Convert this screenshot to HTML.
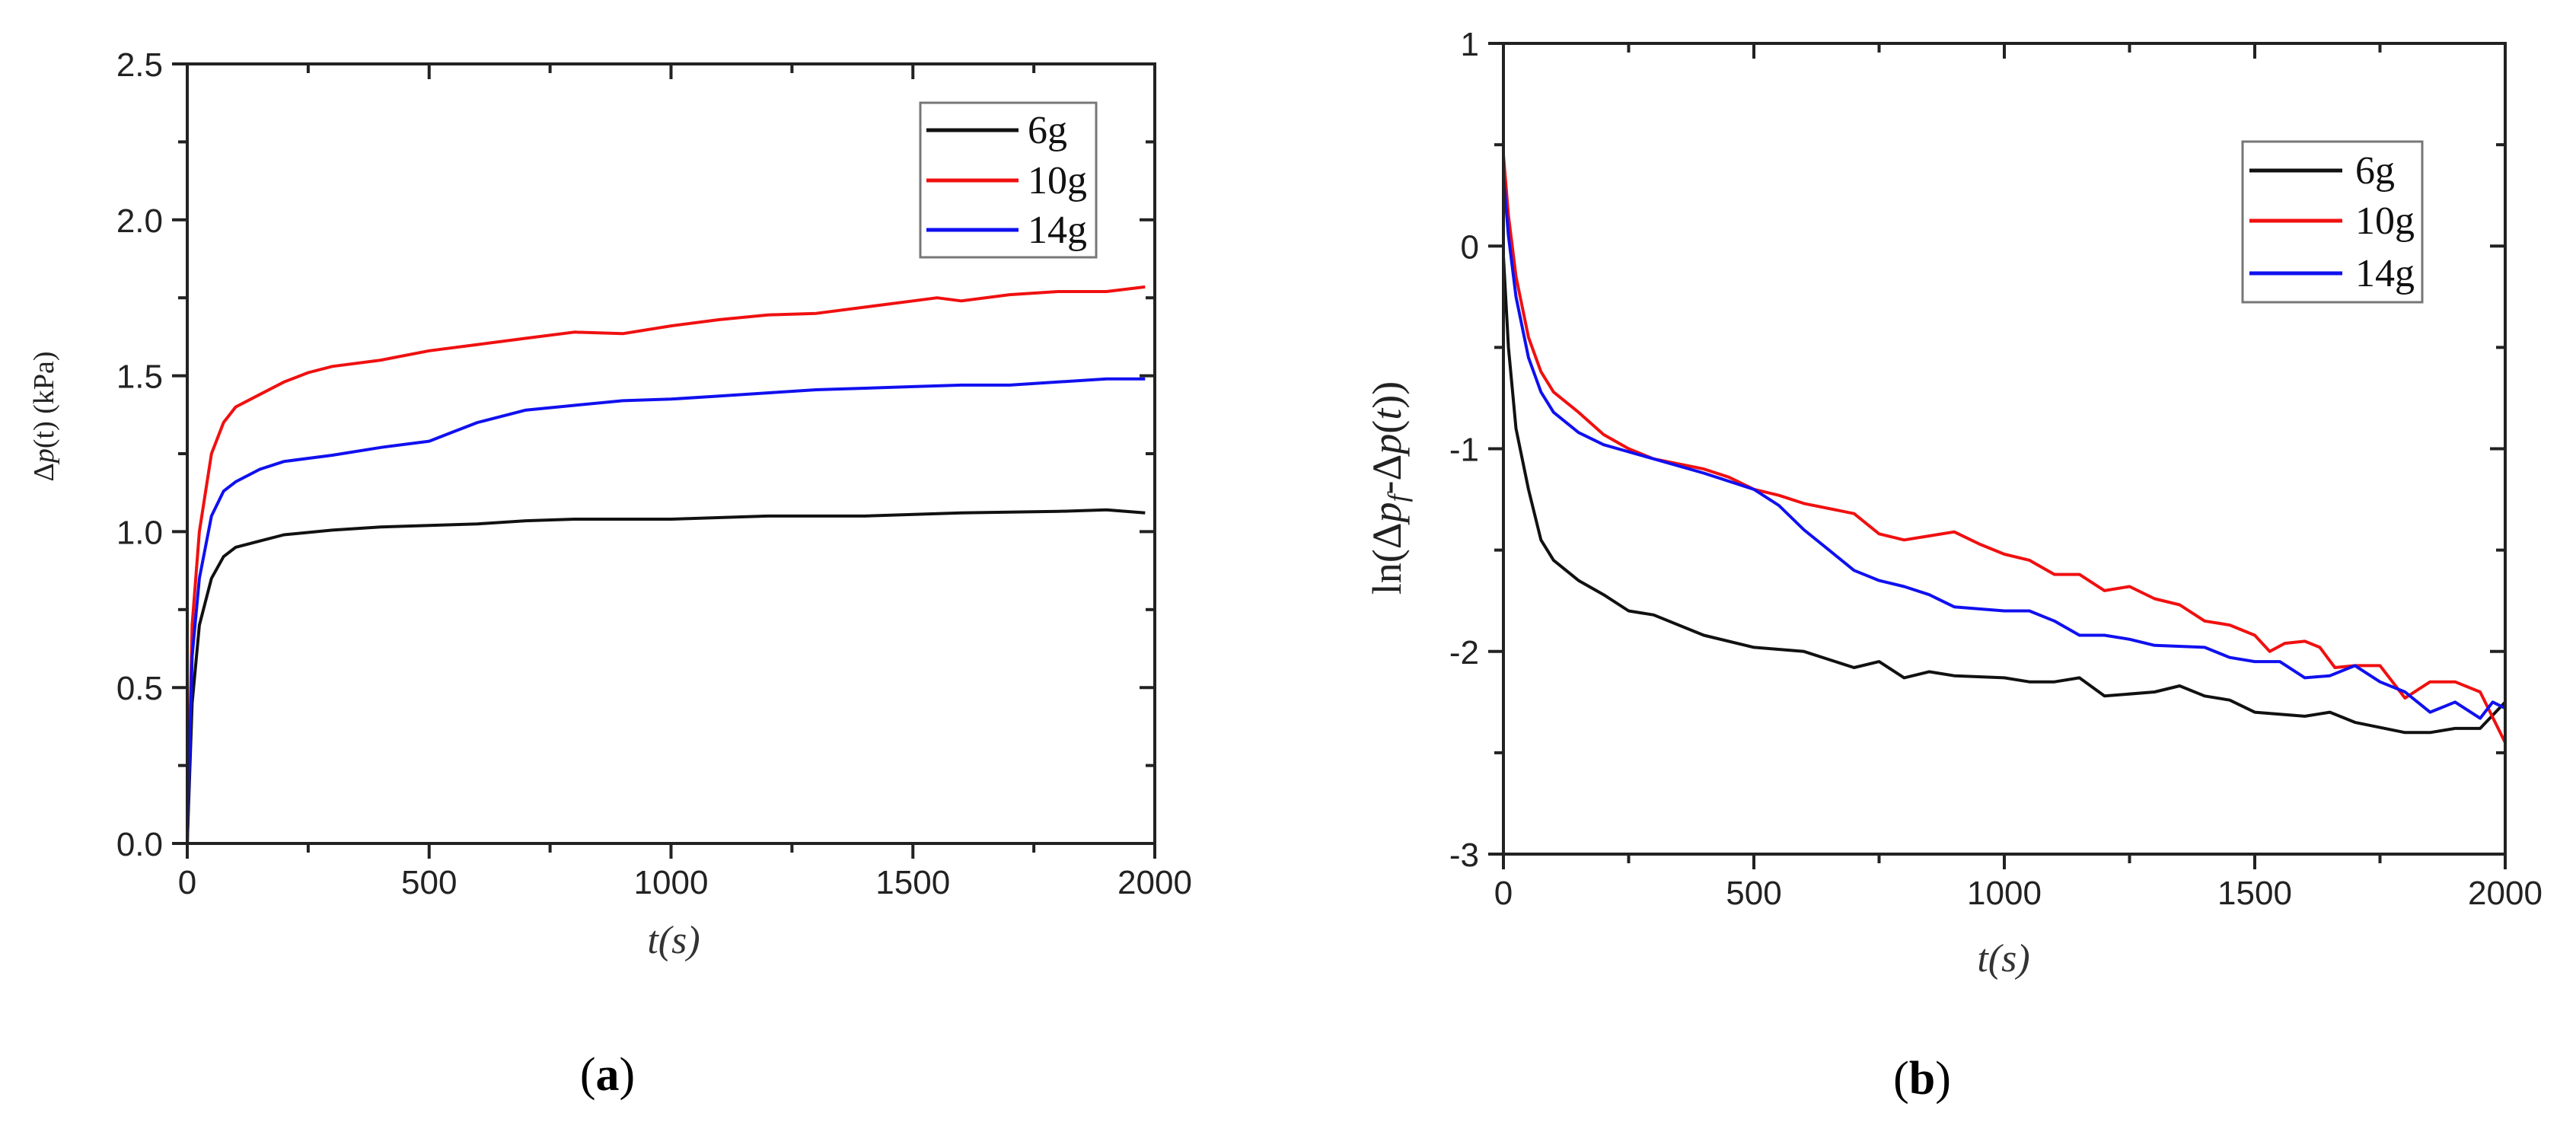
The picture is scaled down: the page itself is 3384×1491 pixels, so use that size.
<!DOCTYPE html>
<html><head><meta charset="utf-8"><style>
html,body{margin:0;padding:0;background:#fff;}
svg{display:block;}
.tick{font-family:"Liberation Sans",sans-serif;font-size:44px;fill:#222;}
.serif{font-family:"Liberation Serif",serif;}
</style></head><body>
<svg id="fig" width="3384" height="1491" viewBox="0 0 3384 1491" xmlns="http://www.w3.org/2000/svg">
<rect width="3384" height="1491" fill="#fff"/>
<g id="chartA"></g>
<g id="chartB"></g>
<text x="798" y="1432" text-anchor="middle" class="serif" font-size="62">(<tspan font-weight="bold">a</tspan>)</text>
<text x="2525" y="1437" text-anchor="middle" class="serif" font-size="62">(<tspan font-weight="bold">b</tspan>)</text>
<text x="885" y="1252" text-anchor="middle" font-family="Liberation Serif, serif" font-size="52" font-style="italic" fill="#333">t(s)</text>
<text x="2632" y="1276" text-anchor="middle" font-family="Liberation Serif, serif" font-size="52" font-style="italic" fill="#333">t(s)</text>
<text transform="translate(70,547) rotate(-90)" text-anchor="middle" font-family="Liberation Serif, serif" font-size="38" fill="#222">Δ<tspan font-style="italic">p</tspan>(t) (kPa)</text>
<text transform="translate(1840,641) rotate(-90)" text-anchor="middle" font-family="Liberation Serif, serif" font-size="54" fill="#222">ln(Δ<tspan font-style="italic">p</tspan><tspan font-style="italic" font-size="36" dy="8">f</tspan><tspan dy="-8">-Δ</tspan><tspan font-style="italic">p</tspan>(<tspan font-style="italic">t</tspan>))</text>
</svg>
<script>
// ---- Chart (a) data ----
const aT6 = [0,10,25,50,75,100,150,200,300,400,500,600,700,800,900,1000,1200,1400,1600,1800,1900,1980];
const aV6 = [0,0.45,0.7,0.85,0.92,0.95,0.97,0.99,1.005,1.015,1.02,1.025,1.035,1.04,1.04,1.04,1.05,1.05,1.06,1.065,1.07,1.06];
const aT10 = [0,10,25,50,75,100,150,200,250,300,400,500,600,700,800,900,1000,1100,1200,1300,1400,1500,1550,1600,1700,1800,1900,1980];
const aV10 = [0,0.7,1.0,1.25,1.35,1.40,1.44,1.48,1.51,1.53,1.55,1.58,1.60,1.62,1.64,1.635,1.66,1.68,1.695,1.70,1.72,1.74,1.75,1.74,1.76,1.77,1.77,1.785];
const aT14 = [0,10,25,50,75,100,150,200,300,400,500,550,600,700,800,900,1000,1100,1200,1300,1400,1500,1600,1700,1800,1900,1980];
const aV14 = [0,0.6,0.85,1.05,1.13,1.16,1.20,1.225,1.245,1.27,1.29,1.32,1.35,1.39,1.405,1.42,1.425,1.435,1.445,1.455,1.46,1.465,1.47,1.47,1.48,1.49,1.49];
const aXTicks = [0,500,1000,1500,2000];
const aYTicks = [0,0.5,1,1.5,2,2.5];
const aYLabels = ["0.0","0.5","1.0","1.5","2.0","2.5"];
// ---- Chart (b) data ----
const bT6 = [0,10,25,50,75,100,150,200,250,300,400,500,600,700,750,800,850,900,1000,1050,1100,1150,1200,1300,1350,1400,1450,1500,1600,1650,1700,1800,1850,1900,1950,2000];
const bV6 = [-0.05,-0.5,-0.9,-1.2,-1.45,-1.55,-1.65,-1.72,-1.8,-1.82,-1.92,-1.98,-2.0,-2.08,-2.05,-2.13,-2.1,-2.12,-2.13,-2.15,-2.15,-2.13,-2.22,-2.2,-2.17,-2.22,-2.24,-2.3,-2.32,-2.3,-2.35,-2.4,-2.4,-2.38,-2.38,-2.25];
const bT10 = [0,10,25,50,75,100,150,200,250,300,400,450,500,550,600,700,750,800,850,900,950,1000,1050,1100,1150,1200,1250,1300,1350,1400,1450,1500,1530,1560,1600,1630,1660,1700,1750,1800,1850,1900,1950,2000];
const bV10 = [0.45,0.15,-0.15,-0.45,-0.62,-0.72,-0.82,-0.93,-1.0,-1.05,-1.1,-1.14,-1.2,-1.23,-1.27,-1.32,-1.42,-1.45,-1.43,-1.41,-1.47,-1.52,-1.55,-1.62,-1.62,-1.7,-1.68,-1.74,-1.77,-1.85,-1.87,-1.92,-2.0,-1.96,-1.95,-1.98,-2.08,-2.07,-2.07,-2.23,-2.15,-2.15,-2.2,-2.45];
const bT14 = [0,10,25,50,75,100,150,200,300,400,500,550,600,650,700,750,800,850,900,1000,1050,1100,1150,1200,1250,1300,1400,1450,1500,1550,1600,1650,1700,1750,1800,1850,1900,1950,1975,2000];
const bV14 = [0.35,0.05,-0.25,-0.55,-0.72,-0.82,-0.92,-0.98,-1.05,-1.12,-1.2,-1.28,-1.4,-1.5,-1.6,-1.65,-1.68,-1.72,-1.78,-1.8,-1.8,-1.85,-1.92,-1.92,-1.94,-1.97,-1.98,-2.03,-2.05,-2.05,-2.13,-2.12,-2.07,-2.15,-2.2,-2.3,-2.25,-2.33,-2.25,-2.28];
const bXTicks = [0,500,1000,1500,2000];
const bYTicks = [-3,-2,-1,0,1];
const bYLabels = ["-3","-2","-1","0","1"];
const seriesNames = ["6g","10g","14g"];
const seriesColors = ["#111","#f01010","#1010f0"];

const NS="http://www.w3.org/2000/svg";
function mk(parent,tag,attrs){const e=document.createElementNS(NS,tag);for(const k in attrs)e.setAttribute(k,attrs[k]);parent.appendChild(e);return e;}

function drawChart(g,cfg){
  const {L,R,T,B,xmin,xmax,ymin,ymax}=cfg;
  const sx=v=>L+(v-xmin)/(xmax-xmin)*(R-L);
  const sy=v=>B-(v-ymin)/(ymax-ymin)*(B-T);
  cfg.series.forEach((s,i)=>{
    const d=s.t.map((t,j)=>(j?'L':'M')+sx(t).toFixed(1)+','+sy(s.v[j]).toFixed(1)).join(' ');
    const p=mk(g,'path',{d:d,fill:'none',stroke:seriesColors[i],'stroke-width':4,'stroke-linejoin':'round'});
    
    
  });
  const fr=mk(g,'rect',{x:L,y:T,width:R-L,height:B-T,fill:'none',stroke:'#222','stroke-width':4});
  
  
  const xstep=cfg.xTicks[1]-cfg.xTicks[0];
  for(let v=xmin;v<=xmax+1e-9;v+=xstep/2){
    const major=Math.abs(v/xstep-Math.round(v/xstep))<1e-6;
    const len=major?20:12;
    mk(g,'line',{x1:sx(v),x2:sx(v),y1:B,y2:B+len,stroke:'#222','stroke-width':4});
    mk(g,'line',{x1:sx(v),x2:sx(v),y1:T,y2:T+len,stroke:'#222','stroke-width':4});
  }
  cfg.xTicks.forEach(v=>{
    const t=mk(g,'text',{x:sx(v),y:B+66,'text-anchor':'middle',class:'tick'});
    t.textContent=v;
    
    
  });
  const ystep=cfg.yTicks[1]-cfg.yTicks[0];
  for(let v=ymin;v<=ymax+1e-9;v+=ystep/2){
    const major=Math.abs(v/ystep-Math.round(v/ystep))<1e-6;
    const len=major?20:12;
    mk(g,'line',{x1:L-len,x2:L,y1:sy(v),y2:sy(v),stroke:'#222','stroke-width':4});
    mk(g,'line',{x1:R-len,x2:R,y1:sy(v),y2:sy(v),stroke:'#222','stroke-width':4});
  }
  cfg.yTicks.forEach((v,i)=>{
    const t=mk(g,'text',{x:L-32,y:sy(v)+16,'text-anchor':'end',class:'tick'});
    t.textContent=cfg.yLabels[i];
    
    
  });
  const lg=cfg.legend;
  const lgG=mk(g,'g',{});
  
  
  mk(lgG,'rect',{x:lg.x,y:lg.y,width:lg.w,height:lg.h,fill:'#fff',stroke:'#777','stroke-width':3});
  seriesNames.forEach((n,i)=>{
    const yy=lg.rows[i];
    const e=mk(lgG,'g',{});
    
    
    mk(e,'line',{x1:lg.lx1,x2:lg.lx2,y1:yy,y2:yy,stroke:seriesColors[i],'stroke-width':5});
    const t=mk(e,'text',{x:lg.tx,y:yy+17,class:'serif','font-size':52,fill:'#111'});
    t.textContent=n;
  });
}

drawChart(document.getElementById('chartA'),{L:246,R:1517,T:84,B:1108,xmin:0,xmax:2000,ymin:0,ymax:2.5,
  xTicks:aXTicks,yTicks:aYTicks,yLabels:aYLabels,
  series:[{t:aT6,v:aV6},{t:aT10,v:aV10},{t:aT14,v:aV14}],
  legend:{x:1209,y:135,w:231,h:203,rows:[171,237,302],lx1:1217,lx2:1338,tx:1350}});
drawChart(document.getElementById('chartB'),{L:1975,R:3291,T:57,B:1122,xmin:0,xmax:2000,ymin:-3,ymax:1,
  xTicks:bXTicks,yTicks:bYTicks,yLabels:bYLabels,
  series:[{t:bT6,v:bV6},{t:bT10,v:bV10},{t:bT14,v:bV14}],
  legend:{x:2946,y:186,w:236,h:211,rows:[224,290,359],lx1:2955,lx2:3077,tx:3094}});
</script>
</body></html>
